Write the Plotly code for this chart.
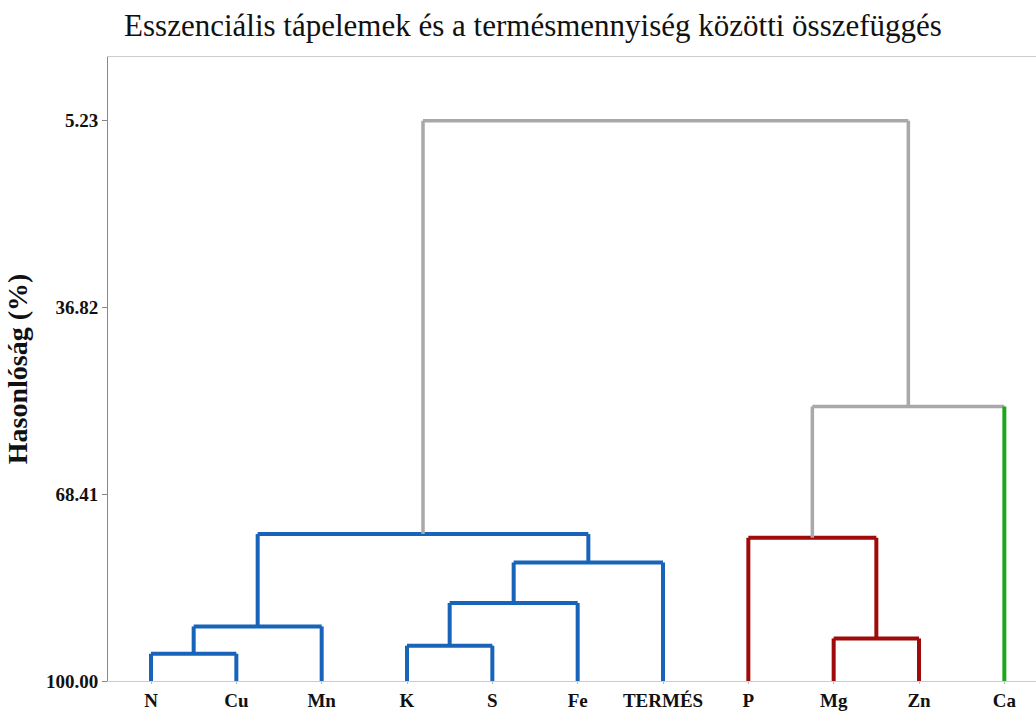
import plotly.graph_objects as go

# ---- data ----
leaves = ["N", "Cu", "Mn", "K", "S", "Fe", "TERMÉS", "P", "Mg", "Zn", "Ca"]
leaf_groups = ["A", "A", "A", "A", "A", "A", "A", "B", "B", "B", "C"]
# merges: (left node, right node, similarity %); new nodes numbered from len(leaves)
merge_left = [0, 11, 3, 13, 14, 12, 8, 7, 18, 16]
merge_right = [1, 2, 4, 5, 6, 15, 9, 17, 10, 19]
merge_height = [95.39, 90.77, 94.03, 86.81, 79.95, 75.15, 92.80, 75.78, 53.58, 5.23]
y_tickvals = [5.23, 36.82, 68.41, 100.00]
y_ticktext = ["5.23", "36.82", "68.41", "100.00"]

group_colors = {"A": "#1764b8", "B": "#a00a0a", "C": "#1ea61e"}
above_color = "#a9a9a9"

n = len(leaves)
xpos = {i: float(i) for i in range(n)}
hpos = {i: 100.0 for i in range(n)}
members = {i: {leaf_groups[i]} for i in range(n)}
color = {i: group_colors[leaf_groups[i]] for i in range(n)}

segs = {}  # color -> (xs, ys)


def add_seg(c, x0, y0, x1, y1):
    xs, ys = segs.setdefault(c, ([], []))
    xs += [x0, x1, None]
    ys += [y0, y1, None]


for k, (a, b, h) in enumerate(zip(merge_left, merge_right, merge_height)):
    node = n + k
    members[node] = members[a] | members[b]
    color[node] = group_colors[next(iter(members[node]))] if len(members[node]) == 1 else above_color
    xpos[node] = (xpos[a] + xpos[b]) / 2
    hpos[node] = h
    for ch in (a, b):
        if ch < n or color[ch] == color[node]:
            lc = color[ch]
        else:
            lc = color[node]
        add_seg(lc, xpos[ch], hpos[ch], xpos[ch], h)
    add_seg(color[node], xpos[a], h, xpos[b], h)

fig = go.Figure()
for c, (xs, ys) in segs.items():
    fig.add_trace(go.Scatter(
        x=xs, y=ys, mode="lines",
        line=dict(color=c, width=3.5 if c == above_color else 4),
        hoverinfo="skip", showlegend=False,
    ))

font_family = "Liberation Serif"
fig.update_layout(
    width=1036, height=711,
    margin=dict(l=108, r=0, t=57, b=30),
    paper_bgcolor="white", plot_bgcolor="white",
    font=dict(family=font_family),
    title=dict(
        text="Esszenciális tápelemek és a termésmennyiség közötti összefüggés",
        x=0.5145, xanchor="center", y=0.965, yanchor="middle",
        font=dict(family=font_family, size=31, color="#111111"),
    ),
    xaxis=dict(
        range=[-0.504, 10.371],
        tickmode="array", tickvals=list(range(n)), ticktext=leaves,
        showgrid=False, zeroline=False,
        showline=True, linecolor="#cccccc", linewidth=1, mirror=True,
        ticks="outside", ticklen=2, tickcolor="#bbbbbb",
        tickfont=dict(family=font_family, size=19, color="#111111", weight="bold"),
    ),
    yaxis=dict(
        range=[100, -5.54],
        tickmode="array", tickvals=y_tickvals, ticktext=y_ticktext,
        showgrid=False, zeroline=False,
        showline=True, linecolor="#888888", linewidth=1,
        ticks="outside", ticklen=5, tickcolor="#888888",
        tickfont=dict(family=font_family, size=19, color="#111111", weight="bold"),
        title=dict(text="Hasonlóság (%)", standoff=10,
                   font=dict(family=font_family, size=28, color="#111111", weight="bold")),
    ),
)

fig.write_html("out.html")
